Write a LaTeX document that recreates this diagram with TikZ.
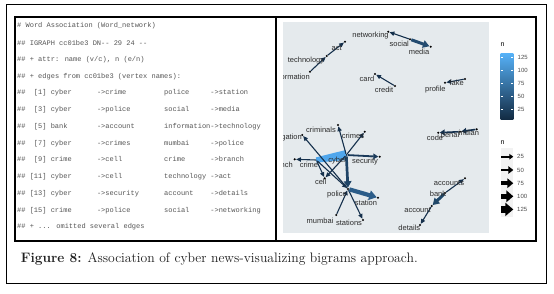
\documentclass[tikz,border=0pt]{standalone}
\usepackage{fontspec}
\usetikzlibrary{arrows.meta,calc}
\newfontfamily\codefont{Liberation Mono}
\newfontfamily\lblfont{Liberation Sans}
\newlength\cwid
\setlength\cwid{4.2pt}
\newcommand\fld[2]{\makebox[#1\cwid][l]{#2}}
\definecolor{codegray}{HTML}{555555}
\definecolor{panel}{HTML}{E5EAED}
\definecolor{cLow}{HTML}{15304C}
\definecolor{cHigh}{HTML}{56B1F7}
\definecolor{cBarLow}{HTML}{132B43}
\definecolor{cWedge}{HTML}{4FA6EC}
\definecolor{cPS}{HTML}{2C5D89}
\definecolor{cSM}{HTML}{234B70}
\definecolor{cCP}{HTML}{1F4466}
\definecolor{cBA}{HTML}{214869}
\definecolor{cCS}{HTML}{1A3A5A}
\definecolor{lblc}{HTML}{2B2B2B}
\definecolor{keybg}{HTML}{F2F2F2}
\definecolor{legtxt}{HTML}{4D4D4D}
\begin{document}
\begin{tikzpicture}[x=1pt,y=-1pt,
  code/.style={anchor=west, inner sep=0pt, font=\codefont\fontsize{7}{8}\selectfont, text=codegray},
  lbl/.style={inner sep=0pt, font=\lblfont\fontsize{7.5}{8}\selectfont, text=lblc},
  legl/.style={anchor=west, inner sep=0pt, font=\lblfont\fontsize{6}{7}\selectfont, text=legtxt},
  legt/.style={anchor=west, inner sep=0pt, font=\lblfont\fontsize{7}{8}\selectfont, text=black},
  pt/.style={circle, fill=black, inner sep=0pt, minimum size=2.3pt},
  ethin/.style={draw=cLow, line width=1.1pt, -{Triangle[length=4.8pt,width=4.2pt]}},
  emid/.style={line width=1.8pt, -{Triangle[length=5pt,width=5.5pt]}},
  ethick/.style={line width=3pt, -{Triangle[length=6.5pt,width=7.5pt]}},
  ebig/.style={line width=4.2pt, -{Triangle[length=7.5pt,width=9.5pt]}}
]
\useasboundingbox (0,0) rectangle (554,293);
\fill[white] (0,0) rectangle (554,293);

% frames
\draw[line width=0.9pt] (6,4) rectangle (546,283);
\draw[line width=1.1pt] (15,17) rectangle (536,241);
\draw[line width=2.2pt] (276,17) -- (276,241);

% code lines
\node[code] (c0) at (17,26) {\# Word Association (Word\_network)};
\node[code] (c1) at (17,42.75) {\#\# IGRAPH cc01be3 DN-{}- 29 24 -{}-};
\node[code] (c2) at (17,59.5) {\#\# + attr: name (v/c), n (e/n)};
\node[code] (c3) at (17,76.25) {\#\# + edges from cc01be3 (vertex names):};
\node[code] (c4) at (17,93) {\fld{4}{\#\#}\fld{4}{[1]}\fld{11}{cyber}\fld{16}{->crime}\fld{11}{police}->station};
\node[code] (c5) at (17,109.75) {\fld{4}{\#\#}\fld{4}{[3]}\fld{11}{cyber}\fld{16}{->police}\fld{11}{social}->media};
\node[code] (c6) at (17,126.5) {\fld{4}{\#\#}\fld{4}{[5]}\fld{11}{bank}\fld{16}{->account}\fld{11}{information}->technology};
\node[code] (c7) at (17,143.25) {\fld{4}{\#\#}\fld{4}{[7]}\fld{11}{cyber}\fld{16}{->crimes}\fld{11}{mumbai}->police};
\node[code] (c8) at (17,160) {\fld{4}{\#\#}\fld{4}{[9]}\fld{11}{crime}\fld{16}{->cell}\fld{11}{crime}->branch};
\node[code] (c9) at (17,176.75) {\fld{3}{\#\#}\fld{5}{[11]}\fld{11}{cyber}\fld{16}{->cell}\fld{11}{technology}->act};
\node[code] (c10) at (17,193.5) {\fld{3}{\#\#}\fld{5}{[13]}\fld{11}{cyber}\fld{16}{->security}\fld{11}{account}->details};
\node[code] (c11) at (17,210.25) {\fld{3}{\#\#}\fld{5}{[15]}\fld{11}{crime}\fld{16}{->police}\fld{11}{social}->networking};
\node[code] (c12) at (17,227) {\#\# + ... omitted several edges};

% graph panel
\begin{scope}
\clip (283,22) rectangle (489,233);
\fill[panel] (283,22) rectangle (489,233);

\node[pt] (networking) at (388.3,31.7) {};
\node[pt] (social) at (410,39.3) {};
\node[pt] (media) at (430.7,46.7) {};
\node[pt] (act) at (345,41.7) {};
\node[pt] (technology) at (326.7,56) {};
\node[pt] (information) at (310,71.7) {};
\node[pt] (card) at (375,74) {};
\node[pt] (credit) at (395,86) {};
\node[pt] (fake) at (465,79) {};
\node[pt] (profile) at (445,82.7) {};
\node[pt] (cyber) at (346.3,155) {};
\node[pt] (crime) at (316.3,160) {};
\node[pt] (branch) at (294.7,159.3) {};
\node[pt] (security) at (379.7,156.7) {};
\node[pt] (crimes) at (364.7,131.7) {};
\node[pt] (criminals) at (338,125) {};
\node[pt] (investigation) at (302.3,135) {};
\node[pt] (cell) at (324.7,178.3) {};
\node[pt] (police) at (348,189) {};
\node[pt] (station) at (378,197.7) {};
\node[pt] (mumbai) at (336.3,215) {};
\node[pt] (stations) at (363,220) {};
\node[pt] (indian) at (476.7,129.3) {};
\node[pt] (penal) at (460,131.7) {};
\node[pt] (code) at (438.3,132.7) {};
\node[pt] (accounts) at (465,178.3) {};
\node[pt] (bank) at (445,193) {};
\node[pt] (account) at (431.7,206) {};
\node[pt] (details) at (420,225) {};

% cyber -> crime wedge (n = 125)
\fill[cWedge] ($(cyber)!5pt!90:(crime)$) -- ($(cyber)!5pt!-90:(crime)$)
  -- ($(crime)!2.6pt!90:(cyber)$) -- ($(crime)!2.6pt!-90:(cyber)$) -- cycle;

% thin edges
\draw[ethin] (social) -- (networking);
\draw[ethin] (information) -- (technology);
\draw[ethin] (technology) -- (act);
\draw[ethin] (credit) -- (card);
\draw[ethin] (fake) -- (profile);
\draw[ethin] (cyber) -- (crimes);
\draw[ethin] (cyber) -- (criminals);
\draw[ethin] (police) -- (investigation);
\draw[ethin] (crime) -- (branch);
\draw[ethin] (crime) -- (cell);
\draw[ethin] (cyber) -- (cell);
\draw[ethin] (crime) -- (police);
\draw[ethin] (mumbai) -- (police);
\draw[ethin] (police) -- (stations);
\draw[ethin] (account) -- (details);
\draw[ethin] (bank) -- (accounts);
% medium edges
\draw[emid, draw=cCS] (cyber) -- (security);
\draw[emid, draw=cLow, line width=1.6pt] (indian) -- (penal);
\draw[emid, draw=cLow, line width=1.6pt] (penal) -- (code);
% thick edges
\draw[ethick, draw=cSM] (social) -- (media);
\draw[ethick, draw=cCP, line width=2.7pt] (cyber) -- (police);
\draw[ethick, draw=cBA] (bank) -- (account);
\draw[ebig, draw=cPS] (police) -- (station);

% labels
\node[lbl] (Lnetworking) at (370.5,35.7) {networking};
\node[lbl] (Lsocial) at (399.3,44.3) {social};
\node[lbl] (Lmedia) at (419,52.3) {media};
\node[lbl] (Lact) at (336.7,47.7) {act};
\node[lbl] (Ltechnology) at (306,61) {technology};
\node[lbl, anchor=east] (Linformation) at (310,76.7) {information};
\node[lbl] (Lcard) at (367,79.3) {card};
\node[lbl] (Lcredit) at (384,90) {credit};
\node[lbl] (Lfake) at (456.7,83.3) {fake};
\node[lbl] (Lprofile) at (435.3,90) {profile};
\node[lbl] (Lcriminals) at (321,130) {criminals};
\node[lbl] (Lcrimes) at (353,135.7) {crimes};
\node[lbl, anchor=east] (Linvestigation) at (302,137.7) {investigation};
\node[lbl, anchor=east] (Lbranch) at (293,165) {branch};
\node[lbl] (Lcrime) at (309,165) {crime};
\node[lbl] (Lcyber) at (337.5,161) {cyber};
\node[lbl] (Lsecurity) at (365,161.7) {security};
\node[lbl] (Lcell) at (320.7,181.7) {cell};
\node[lbl] (Lpolice) at (337,195) {police};
\node[lbl] (Lstation) at (366,202.7) {station};
\node[lbl] (Lmumbai) at (320,221) {mumbai};
\node[lbl] (Lstations) at (349,223.3) {stations};
\node[lbl] (Lindian) at (469,133.3) {indian};
\node[lbl] (Lpenal) at (450,135.7) {penal};
\node[lbl] (Lcode) at (435,137.7) {code};
\node[lbl] (Laccounts) at (449,182.7) {accounts};
\node[lbl] (Lbank) at (438,194) {bank};
\node[lbl] (Laccount) at (417.5,210) {account};
\node[lbl] (Ldetails) at (409.3,228.3) {details};
\end{scope}

% colour legend
\node[legt] (ntitle1) at (500.5,45) {n};
\shade[top color=cHigh, bottom color=cBarLow] (500.7,53.3) rectangle (513.3,119.3);
\foreach \yy/\lab in {57.7/125, 70.6/100, 83.5/75, 96.4/50, 109.3/25}{
  \draw[white, line width=0.5pt] (500.7,\yy) -- ++(2.4,0);
  \draw[white, line width=0.5pt] (513.3,\yy) -- ++(-2.4,0);
  \node[legl] (cb\lab) at (517.5,\yy) {\lab};
}

% width legend
\node[legt] (ntitle2) at (500.5,142.7) {n};
\fill[keybg] (500.7,148) rectangle (513.3,216.7);
\foreach \yy/\lab/\lw/\al/\aw in {156.7/25/1.8/4/5.5, 170/50/2.8/5/7.5, 183.2/75/3.8/6/9.5, 196.3/100/5/7/11.5, 209.4/125/6.2/8/13}{
  \coordinate (as\lab) at (501.3,\yy);
  \coordinate (ae\lab) at (513.3,\yy);
  \draw[line width=\lw pt, -{Triangle[length=\al pt,width=\aw pt]}] (as\lab) -- (ae\lab);
  \node[legl] (wl\lab) at (517,\yy) {\lab};
}

% caption
\node[anchor=base west, inner sep=0pt, font=\fontsize{13.7}{16}\selectfont, text=black!88] (cap) at (20.7,262.3)
  {\textbf{Figure 8:} Association of cyber news-visualizing bigrams approach.};
\end{tikzpicture}
\end{document}
